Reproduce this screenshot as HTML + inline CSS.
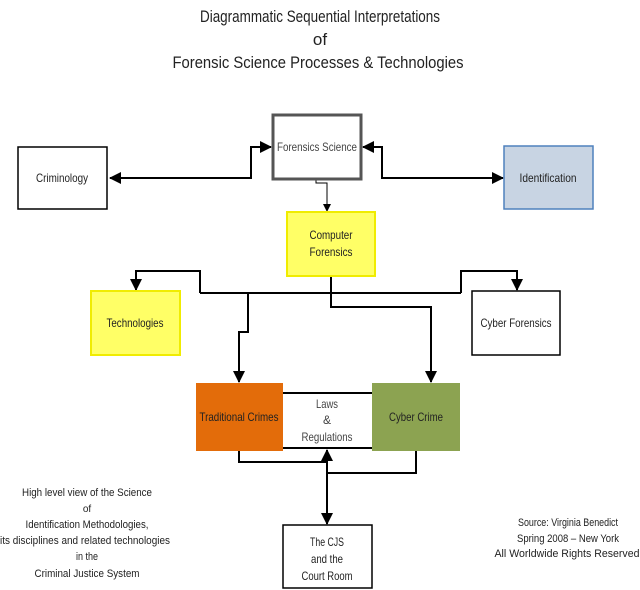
<!DOCTYPE html>
<html><head><meta charset="utf-8"><style>
html,body{margin:0;padding:0;background:#fff;}
svg{display:block;}
text{font-family:"Liberation Sans Narrow","Liberation Sans",sans-serif;fill:#222;text-anchor:middle;}
</style></head><body>
<svg width="640" height="590" viewBox="0 0 640 590" xmlns="http://www.w3.org/2000/svg">
<defs>
<marker id="a" markerWidth="8" markerHeight="8" refX="7" refY="4" orient="auto" markerUnits="userSpaceOnUse"><path d="M0,0 L8,4 L0,8 z" fill="#000"/></marker>
<marker id="as" markerWidth="12" markerHeight="12" refX="11" refY="6" orient="auto" markerUnits="userSpaceOnUse"><path d="M0,0 L12,6 L0,12 z" fill="#000"/></marker>
<marker id="ast" markerWidth="12" markerHeight="12" refX="11" refY="6" orient="auto-start-reverse" markerUnits="userSpaceOnUse"><path d="M0,0 L12,6 L0,12 z" fill="#000"/></marker>
</defs>
<text x="320" y="22" font-size="17" textLength="240" lengthAdjust="spacingAndGlyphs">Diagrammatic Sequential Interpretations</text>
<text x="320" y="45" font-size="17">of</text>
<text x="318" y="68" font-size="17" textLength="291" lengthAdjust="spacingAndGlyphs">Forensic Science Processes &amp; Technologies</text>

<g fill="none" stroke="#000" stroke-width="2">
<polyline points="110,178 251,178 251,147 271,147" marker-start="url(#ast)" marker-end="url(#ast)"/>
<polyline points="363,147 382,147 382,178 503,178" marker-start="url(#ast)" marker-end="url(#ast)"/>
<polyline points="331,276 331,307 431,307 431,382" marker-end="url(#as)"/>
<polyline points="200,293 461,293"/>
<polyline points="200,293 200,271 136,271 136,290" marker-end="url(#as)"/>
<polyline points="461,293 461,271 517,271 517,290" marker-end="url(#as)"/>
<polyline points="248,293 248,332 239,332 239,382" marker-end="url(#as)"/>
<polyline points="239,451 239,462 327,462"/>
<polyline points="416,451 416,473 327,473"/>
<polyline points="327,450 327,524" marker-start="url(#ast)" marker-end="url(#ast)"/>
<line x1="283" y1="393" x2="372" y2="393"/>
<line x1="283" y1="448" x2="372" y2="448"/>
</g>
<polyline points="316,179 316,183 327,183 327,211" fill="none" stroke="#000" stroke-width="1" marker-end="url(#a)"/>

<rect x="273" y="115" width="88" height="64" fill="#fff" stroke="#555" stroke-width="3"/>
<rect x="18" y="147" width="89" height="62" fill="#fff" stroke="#000" stroke-width="1.5"/>
<rect x="504" y="146" width="89" height="63" fill="#c8d4e3" stroke="#4f81bd" stroke-width="1.5"/>
<rect x="287" y="212" width="88" height="64" fill="#ffff66" stroke="#f0ec00" stroke-width="2"/>
<rect x="91" y="291" width="89" height="64" fill="#ffff66" stroke="#f0ec00" stroke-width="2"/>
<rect x="472" y="291" width="88" height="64" fill="#fff" stroke="#000" stroke-width="1.5"/>
<rect x="196" y="383" width="87" height="68" fill="#e36c0a"/>
<rect x="372" y="383" width="88" height="68" fill="#8ca351"/>
<rect x="283" y="525" width="89" height="63" fill="#fff" stroke="#000" stroke-width="1.5"/>

<g font-size="12">
<text x="317" y="151" textLength="80" lengthAdjust="spacingAndGlyphs" style="fill:#444">Forensics Science</text>
<text x="62" y="182" textLength="52" lengthAdjust="spacingAndGlyphs">Criminology</text>
<text x="548" y="182" textLength="57" lengthAdjust="spacingAndGlyphs">Identification</text>
<text x="331" y="239" textLength="43" lengthAdjust="spacingAndGlyphs">Computer</text>
<text x="331" y="256" textLength="43" lengthAdjust="spacingAndGlyphs">Forensics</text>
<text x="135" y="327" textLength="57" lengthAdjust="spacingAndGlyphs">Technologies</text>
<text x="516" y="327" textLength="71" lengthAdjust="spacingAndGlyphs">Cyber Forensics</text>
<text x="239" y="421" textLength="79" lengthAdjust="spacingAndGlyphs">Traditional Crimes</text>
<text x="416" y="421" textLength="54" lengthAdjust="spacingAndGlyphs">Cyber Crime</text>
<text x="327" y="408" textLength="22" lengthAdjust="spacingAndGlyphs" style="fill:#444">Laws</text>
<text x="327" y="424" style="fill:#444">&amp;</text>
<text x="327" y="441" textLength="51" lengthAdjust="spacingAndGlyphs" style="fill:#444">Regulations</text>
<text x="327" y="546" textLength="34" lengthAdjust="spacingAndGlyphs">The CJS</text>
<text x="327" y="563" textLength="32" lengthAdjust="spacingAndGlyphs">and the</text>
<text x="327" y="580" textLength="51" lengthAdjust="spacingAndGlyphs">Court Room</text>
</g>
<g font-size="11">
<text x="87" y="496" textLength="130" lengthAdjust="spacingAndGlyphs">High level view of the Science</text>
<text x="87" y="512" font-size="10">of</text>
<text x="87" y="528" textLength="123" lengthAdjust="spacingAndGlyphs">Identification Methodologies,</text>
<text x="85" y="544" textLength="170" lengthAdjust="spacingAndGlyphs">its disciplines and related technologies</text>
<text x="87" y="560" textLength="22" lengthAdjust="spacingAndGlyphs">in the</text>
<text x="87" y="577" textLength="105" lengthAdjust="spacingAndGlyphs">Criminal Justice System</text>
<text x="568" y="526" textLength="100" lengthAdjust="spacingAndGlyphs">Source: Virginia Benedict</text>
<text x="568" y="542" textLength="102" lengthAdjust="spacingAndGlyphs">Spring 2008 – New York</text>
<text x="567" y="557" textLength="145" lengthAdjust="spacingAndGlyphs">All Worldwide Rights Reserved</text>
</g>
</svg>
</body></html>
